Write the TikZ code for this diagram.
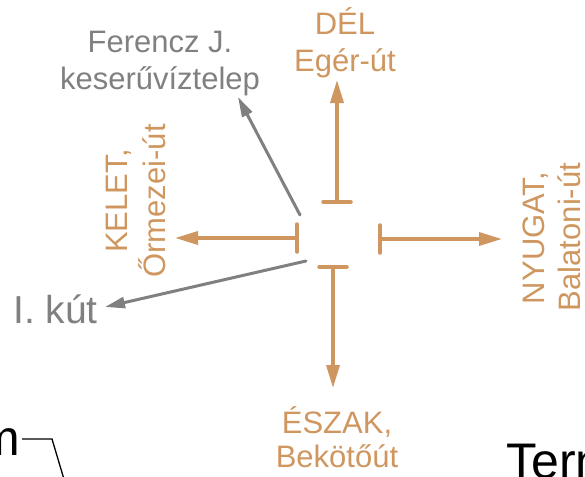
\documentclass[tikz,border=0pt]{standalone}
\usepackage{fontspec}
\setmainfont{Liberation Sans}
\usetikzlibrary{arrows.meta}
\definecolor{road}{RGB}{207,151,95}
\definecolor{spring}{RGB}{128,128,128}
\begin{document}
\begin{tikzpicture}[x=1pt,y=-1pt,
  lbl/.style={font=\fontsize{31}{36}\selectfont, inner sep=0pt, anchor=base},
  roadlbl/.style={lbl, text=road},
  graylbl/.style={lbl, text=spring},
  stem/.style={draw=road, line width=3.5pt, -{Triangle[length=23pt,width=13pt]}},
  bar/.style={draw=road, line width=3.5pt, line cap=round},
  ptr/.style={draw=spring, line width=3pt, line cap=round, -{Triangle[length=20pt,width=11pt]}},
  big/.style={font=\fontsize{50}{60}\selectfont, inner sep=0pt, text=black},
]
\useasboundingbox (0,0) rectangle (585,476);

% labels
\node[graylbl] (fer1) at (160,53) {Ferencz J.};
\node[graylbl] (fer2) at (160,89) {keserűvíztelep};
\node[roadlbl] (del1) at (345,35) {DÉL};
\node[roadlbl] (del2) at (345,72) {Egér-út};
\node[roadlbl, rotate=90] (kel1) at (127,201) {KELET,};
\node[roadlbl, rotate=90] (kel2) at (165,201) {Őrmezei-út};
\node[roadlbl, rotate=90] (nyu1) at (544,238) {NYUGAT,};
\node[roadlbl, rotate=90] (nyu2) at (580,237) {Balatoni-út};
\node[roadlbl] (esz1) at (337,433) {ÉSZAK,};
\node[roadlbl] (esz2) at (337,467) {Bekötőút};
\node[graylbl, font=\fontsize{39}{45}\selectfont, anchor=base west] (kut) at (13,323) {I. kút};
\node[big, anchor=base east] (mtxt) at (20.5,455) {m};
\node[big, anchor=base west] (tern) at (506,478) {Tern};

% crossbar centres and arrow tips
\coordinate (delS) at (337,202);
\coordinate (delT) at (337,80);
\coordinate (kelS) at (297,238);
\coordinate (kelT) at (175,238);
\coordinate (nyuS) at (380,239);
\coordinate (nyuT) at (502,239);
\coordinate (eszS) at (333,267);
\coordinate (eszT) at (333,388);

% crossbars
\draw[bar] ([xshift=-14pt]delS) -- ([xshift=14pt]delS);
\draw[bar] ([yshift=-14pt]kelS) -- ([yshift=14pt]kelS);
\draw[bar] ([yshift=-14pt]nyuS) -- ([yshift=14pt]nyuS);
\draw[bar] ([xshift=-14pt]eszS) -- ([xshift=14pt]eszS);

% stems
\draw[stem] (delS) -- (delT);
\draw[stem] (kelS) -- (kelT);
\draw[stem] (nyuS) -- (nyuT);
\draw[stem] (eszS) -- (eszT);

% gray pointers
\coordinate (p1s) at (300,215);
\coordinate (p1t) at (238,97);
\coordinate (p2s) at (306,261);
\coordinate (p2t) at (105,307);
\draw[ptr] (p1s) -- (p1t);
\draw[ptr] (p2s) -- (p2t);

% black leader
\coordinate (m1) at (22,439);
\coordinate (m2) at (52,439);
\coordinate (m3) at (66,486);
\draw[line width=1.3pt] (m1) -- (m2) -- (m3);
\end{tikzpicture}
\end{document}
